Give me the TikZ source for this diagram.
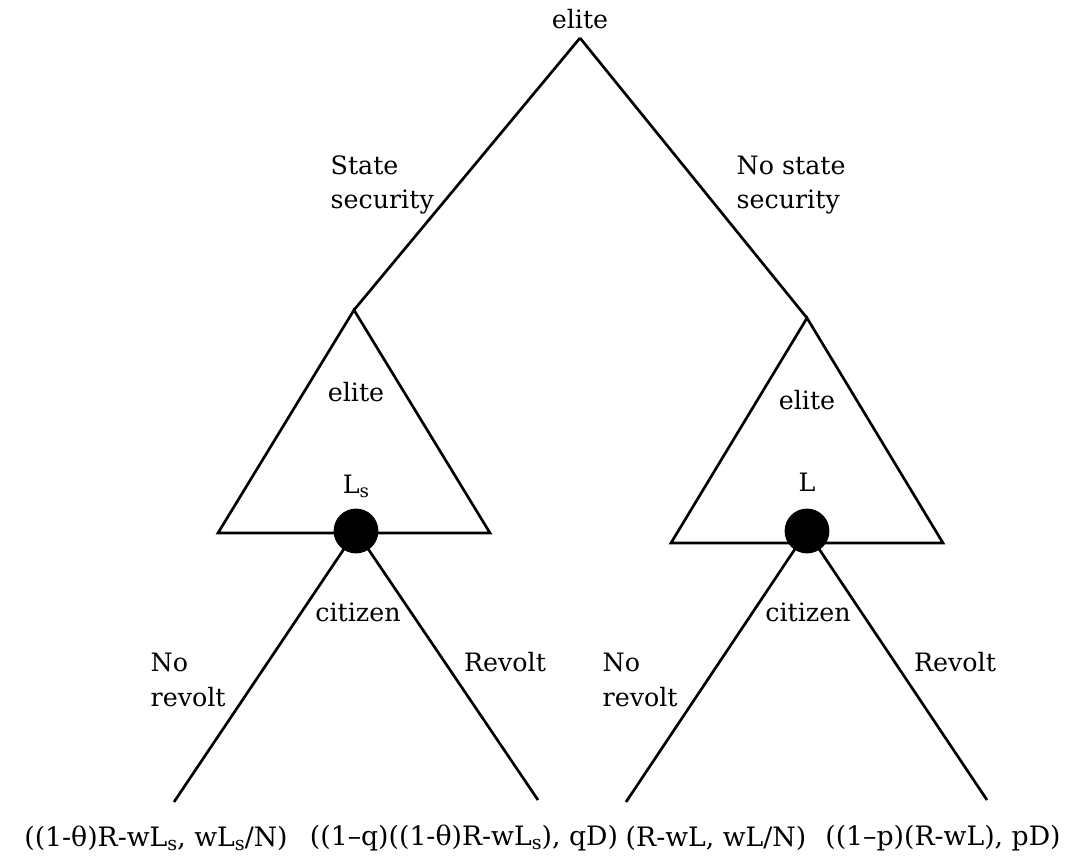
\documentclass[tikz,border=0pt]{standalone}
\usepackage{xcolor}
\usepackage{tikz}
\usepackage{fontspec}
\setmainfont{DejaVu Serif}
\usetikzlibrary{positioning,calc}
\newcommand{\subs}{\raisebox{-0.3ex}{\scalebox{0.72}{s}}}

\begin{document}
\begin{tikzpicture}[
    x=0.025cm, y=-0.025cm,
    every node/.style={align=center, font=\fontsize{18}{24.5}\selectfont, inner sep=1pt},
    branch/.style={line width=1.9pt, black},
    decision/.style={circle, fill=black, minimum size=1.12cm, inner sep=0pt},
    lbl/.style={align=left},
    payoff/.style={font=\fontsize{19}{24}\selectfont}
]
    \useasboundingbox (0,0) rectangle (1065,865);

    % Root move of the elite
    \coordinate (root) at (580,38);
    \node (root-lbl) at (580,19) {elite};

    % Elite subgames
    \coordinate (sec-top) at (354,310);
    \coordinate (sec-left) at (218,533);
    \coordinate (sec-right) at (490,533);
    \coordinate (nosec-top) at (807,318);
    \coordinate (nosec-left) at (671,543);
    \coordinate (nosec-right) at (943,543);
    \coordinate (sec-move) at (356,531);
    \coordinate (nosec-move) at (807,531);

    % Terminal points
    \coordinate (sec-norevolt) at (174,802);
    \coordinate (sec-revolt) at (538,800);
    \coordinate (nosec-norevolt) at (626,802);
    \coordinate (nosec-revolt) at (987,800);

    % Branches
    \draw[branch] (root) -- (sec-top);
    \draw[branch] (root) -- (nosec-top);
    \draw[branch] (sec-top) -- (sec-left) -- (sec-right) -- cycle;
    \draw[branch] (nosec-top) -- (nosec-left) -- (nosec-right) -- cycle;
    \draw[branch] (sec-norevolt) -- (sec-move) -- (sec-revolt);
    \draw[branch] (nosec-norevolt) -- (nosec-move) -- (nosec-revolt);

    % Citizen moves
    \node[decision] (sec-dot) at (sec-move) {};
    \node[decision] (nosec-dot) at (nosec-move) {};

    % Labels
    \node[lbl, anchor=west] (sec-lbl) at (329,185) {State\\security};
    \node[lbl, anchor=west] (nosec-lbl) at (735,185) {No state\\security};
    \node (sec-elite) at (356,392) {elite};
    \node (nosec-elite) at (807,400) {elite};
    \node (sec-ls) at (356,486) {L\subs};
    \node (nosec-l) at (807,482) {L};
    \node (sec-citizen) at (358,612) {citizen};
    \node (nosec-citizen) at (808,612) {citizen};
    \node[lbl, anchor=west] (sec-nr-lbl) at (149,680) {No\\revolt};
    \node[lbl, anchor=west] (nosec-nr-lbl) at (601,680) {No\\revolt};
    \node (sec-r-lbl) at (505,662) {Revolt};
    \node (nosec-r-lbl) at (955,662) {Revolt};

    % Payoffs
    \node[payoff] (pay-sec-nr) at (156,838) {((1-θ)R-wL\subs, wL\subs/N)};
    \node[payoff] (pay-sec-r) at (464,838) {((1–q)((1-θ)R-wL\subs), qD)};
    \node[payoff] (pay-nosec-nr) at (716,838) {(R-wL, wL/N)};
    \node[payoff] (pay-nosec-r) at (943,838) {((1–p)(R-wL), pD)};
\end{tikzpicture}
\end{document}
